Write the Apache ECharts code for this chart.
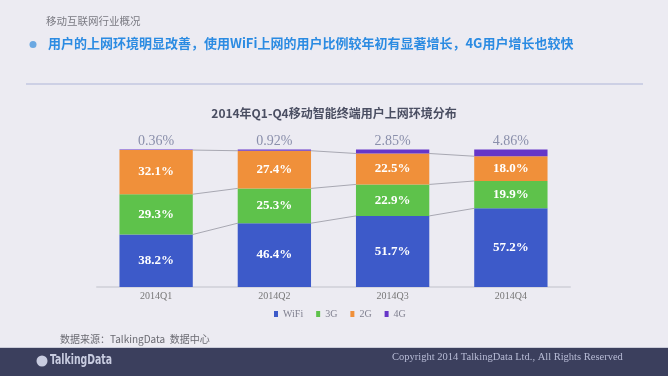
<!DOCTYPE html>
<html><head><meta charset="utf-8">
<script src="https://cdn.jsdelivr.net/npm/echarts@6/dist/echarts.min.js"></script>
<style>html,body{margin:0;padding:0;background:#ecebf2;}#c{width:668px;height:376px;}</style>
</head><body><div id="c"></div>
<script>
const categories = ['2014Q1','2014Q2','2014Q3','2014Q4'];
const wifi = [38.2, 46.4, 51.7, 57.2];
const g3 = [29.3, 25.3, 22.9, 19.9];
const g2 = [32.1, 27.4, 22.5, 18.0];
const g4 = [0.36, 0.92, 2.85, 4.86];
const seriesNames = ['WiFi','3G','2G','4G'];
const colors = ['#3d5ac9','#5ec24b','#f0903a','#6636c8'];

const layers = [wifi, g3, g2];
const cum = [];
let run = [0,0,0,0];
layers.forEach(arr => { run = run.map((v,i)=>v+arr[i]); cum.push(run.slice()); });
const linkData = [];
cum.forEach(c => { for (let i=0;i<c.length-1;i++) linkData.push([i, c[i], c[i+1]]); });

const BAR_RATIO = 0.62;
const serif = '"Liberation Serif","Times New Roman",serif';
const cjk = '"Noto Sans CJK SC","Noto Sans",sans-serif';

const inLabel = {show:true, position:'inside', color:'#fff', fontFamily:serif, fontWeight:'bold', fontSize:13, formatter: p => p.value.toFixed(1)+'%'};

const chart = echarts.init(document.getElementById('c'));
chart.setOption({
  backgroundColor:'#ecebf2',
  animation:false,
  title:{text:'2014年Q1-Q4移动智能终端用户上网环境分布', left:'center', top:102,
    textStyle:{fontFamily:cjk, fontSize:12, fontWeight:'bold', color:'#4a4e62'}},
  grid:{left:97, right:98, top:149.5, height:137.5},
  legend:{data:seriesNames, left:274, top:309, padding:0, itemWidth:4, itemHeight:6, itemGap:13, icon:'rect',
    textStyle:{fontFamily:serif, fontSize:10, color:'#808090'}},
  xAxis:{type:'category', data:categories,
    axisLine:{lineStyle:{color:'#d6d6de', width:2}}, axisTick:{show:false},
    axisLabel:{fontFamily:serif, fontSize:10, color:'#777', margin:4}},
  yAxis:{type:'value', min:0, max:100, show:false, splitLine:{show:false}},
  series:[
    {name:'WiFi', type:'bar', stack:'a', data:wifi, barWidth:(BAR_RATIO*100)+'%', itemStyle:{color:colors[0]}, label:inLabel},
    {name:'3G', type:'bar', stack:'a', data:g3, itemStyle:{color:colors[1]}, label:inLabel},
    {name:'2G', type:'bar', stack:'a', data:g2, itemStyle:{color:colors[2]}, label:inLabel},
    {name:'4G', type:'bar', stack:'a', data:g4, itemStyle:{color:colors[3]},
      label:{show:true, position:'top', distance:1, color:'#8a8fab', fontFamily:serif, fontSize:14, formatter: p => p.value.toFixed(2)+'%'}},
    {name:'links', type:'custom', data:linkData, encode:{x:0, y:1}, z:1, silent:true,
      renderItem:(params, api) => {
        const i = api.value(0);
        const p1 = api.coord([i, api.value(1)]);
        const p2 = api.coord([i+1, api.value(2)]);
        const half = api.size([1,0])[0]*BAR_RATIO/2;
        return {type:'line', shape:{x1:p1[0]+half, y1:p1[1], x2:p2[0]-half, y2:p2[1]},
          style:{stroke:'#a8a8b2', lineWidth:1}};
      }}
  ],
  graphic:[
    {type:'text', left:46, top:16, style:{text:'移动互联网行业概况', fontFamily:cjk, fontSize:10.5, fill:'#7a7a82'}},
    {type:'circle', shape:{cx:33, cy:44.5, r:3.5}, style:{fill:'#6aa8e2'}},
    {type:'text', left:48, top:37, style:{text:'用户的上网环境明显改善，使用WiFi上网的用户比例较年初有显著增长，4G用户增长也较快', fontFamily:cjk, fontSize:13, fontWeight:'bold', fill:'#2b8be2'}},
    {type:'line', shape:{x1:26, y1:84, x2:643, y2:84}, style:{stroke:'#c3c7e0', lineWidth:1.5}},
    {type:'text', left:60, top:334, style:{text:'数据来源：TalkingData  数据中心', fontFamily:cjk, fontSize:10, fill:'#6a6a72'}},
    {type:'rect', shape:{x:0, y:348, width:668, height:28}, style:{fill:'#3b3f5d'}},
    {type:'rect', shape:{x:0, y:347, width:668, height:1}, style:{fill:'#c9cbd8'}},
    {type:'circle', shape:{cx:42, cy:361, r:5.5}, style:{fill:'#c8cce0'}},
    {type:'text', x:50, y:353, scaleX:0.74, style:{text:'TalkingData', x:0, y:0, fontFamily:'"DejaVu Sans Condensed","DejaVu Sans",sans-serif', fontSize:14, fontWeight:'bold', fill:'#c8cce0'}},
    {type:'text', left:392, top:352, style:{text:'Copyright 2014 TalkingData Ltd., All Rights Reserved', fontFamily:serif, fontSize:10.5, fill:'#b8bcd6'}}
  ]
});
</script></body></html>
